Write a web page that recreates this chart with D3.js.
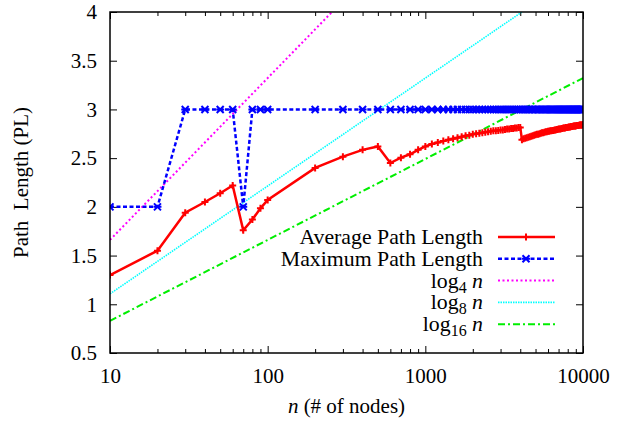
<!DOCTYPE html>
<html>
<head>
<meta charset="utf-8">
<script src="https://cdnjs.cloudflare.com/ajax/libs/d3/7.8.5/d3.min.js"></script>
<style>
  body { margin: 0; background: #fff; }
  svg { font-family: "Liberation Serif", "Times New Roman", serif; }
</style>
</head>
<body>
<script>
// Chart data
var nodes = [10, 20, 30, 40, 50, 60, 70, 80, 90, 100,
  200, 300, 400, 500, 600, 700, 800, 900,
  1000, 1100, 1200, 1300, 1400, 1500, 1600, 1700, 1800, 1900,
  2000, 2100, 2200, 2300, 2400, 2500, 2600, 2700, 2800, 2900,
  3000, 3100, 3200, 3300, 3400, 3500, 3600, 3700, 3800, 3900,
  4000, 4100, 4200, 4300, 4400, 4500, 4600, 4700, 4800, 4900,
  5000, 5100, 5200, 5300, 5400, 5500, 5600, 5700, 5800, 5900,
  6000, 6100, 6200, 6300, 6400, 6500, 6600, 6700, 6800, 6900,
  7000, 7100, 7200, 7300, 7400, 7500, 7600, 7700, 7800, 7900,
  8000, 8100, 8200, 8300, 8400, 8500, 8600, 8700, 8800, 8900,
  9000, 9100, 9200, 9300, 9400, 9500, 9600, 9700, 9800, 9900,
  10000];

var avgPath = [1.30, 1.55, 1.94, 2.05, 2.14, 2.22, 1.76, 1.87, 1.985, 2.07,
  2.40, 2.515, 2.585, 2.62, 2.45, 2.505, 2.54, 2.585,
  2.62, 2.645, 2.66, 2.675, 2.69, 2.70, 2.71, 2.72, 2.73, 2.735,
  2.745, 2.75, 2.755, 2.76, 2.765, 2.77, 2.775, 2.78, 2.78, 2.785,
  2.79, 2.79, 2.795, 2.80, 2.80, 2.805, 2.805, 2.81, 2.81, 2.815,
  2.815, 2.69, 2.70, 2.705, 2.71, 2.715, 2.72, 2.725, 2.73, 2.735,
  2.74, 2.745, 2.745, 2.75, 2.755, 2.76, 2.76, 2.765, 2.77, 2.77,
  2.775, 2.775, 2.78, 2.78, 2.785, 2.785, 2.79, 2.79, 2.795, 2.795,
  2.80, 2.80, 2.80, 2.805, 2.805, 2.81, 2.81, 2.81, 2.815, 2.815,
  2.815, 2.82, 2.82, 2.82, 2.825, 2.825, 2.825, 2.83, 2.83, 2.83,
  2.83, 2.835, 2.835, 2.835, 2.835, 2.84, 2.84, 2.84, 2.84, 2.84,
  2.845];

var maxPath = [2, 2, 3, 3, 3, 3, 2, 3, 3, 3,
  3, 3, 3, 3, 3, 3, 3, 3,
  3, 3, 3, 3, 3, 3, 3, 3, 3, 3,
  3, 3, 3, 3, 3, 3, 3, 3, 3, 3,
  3, 3, 3, 3, 3, 3, 3, 3, 3, 3,
  3, 3, 3, 3, 3, 3, 3, 3, 3, 3,
  3, 3, 3, 3, 3, 3, 3, 3, 3, 3,
  3, 3, 3, 3, 3, 3, 3, 3, 3, 3,
  3, 3, 3, 3, 3, 3, 3, 3, 3, 3,
  3, 3, 3, 3, 3, 3, 3, 3, 3, 3,
  3, 3, 3, 3, 3, 3, 3, 3, 3, 3,
  3];

// reference curves, endpoints at n = 10 and n = 10000
var refN = [10, 10000];
var log4 = [1.661, 6.644];
var log8 = [1.107, 4.429];
var log16 = [0.830, 3.322];

var xTicks = [10, 100, 1000, 10000];
var yTicks = [0.5, 1, 1.5, 2, 2.5, 3, 3.5, 4];

// Chart Params
var svgWidth = 629;
var svgHeight = 423;
var margin = { top: 12, right: 46, bottom: 70, left: 110 };
var width = svgWidth - margin.left - margin.right;
var height = svgHeight - margin.top - margin.bottom;

var svg = d3.select("body")
  .append("svg")
  .attr("width", svgWidth)
  .attr("height", svgHeight);

var chartGroup = svg.append("g")
  .attr("transform", `translate(${margin.left}, ${margin.top})`);

var xScale = d3.scaleLog().domain([10, 10000]).range([0, width]);
var yScale = d3.scaleLinear().domain([0.5, 4]).range([height, 0]);

// minor log ticks (2..9 in every decade)
var minorTicks = [];
[10, 100, 1000].forEach(function(d) {
  for (var k = 2; k <= 9; k++) minorTicks.push(d * k);
});

chartGroup.append("defs").append("clipPath").attr("id", "clip")
  .append("rect").attr("width", width).attr("height", height);

// axes: gnuplot style, ticks pointing inward and mirrored
function styleAxis(g) {
  g.select(".domain").remove();
  g.selectAll("line").attr("stroke", "#000").attr("stroke-width", 1);
  g.selectAll("text").attr("font-size", 21).attr("fill", "#000")
    .attr("font-family", "Liberation Serif, serif");
}

chartGroup.append("g")
  .attr("transform", `translate(0, ${height})`)
  .call(d3.axisBottom(xScale).tickValues(xTicks).tickFormat(d3.format("d"))
    .tickSizeInner(-7).tickSizeOuter(0).tickPadding(15))
  .call(styleAxis);

chartGroup.append("g")
  .attr("transform", `translate(0, ${height})`)
  .call(d3.axisBottom(xScale).tickValues(minorTicks).tickFormat("")
    .tickSizeInner(-4).tickSizeOuter(0))
  .call(styleAxis);

chartGroup.append("g")
  .call(d3.axisTop(xScale).tickValues(xTicks).tickFormat("")
    .tickSizeInner(-7).tickSizeOuter(0))
  .call(styleAxis);

chartGroup.append("g")
  .call(d3.axisTop(xScale).tickValues(minorTicks).tickFormat("")
    .tickSizeInner(-4).tickSizeOuter(0))
  .call(styleAxis);

chartGroup.append("g")
  .call(d3.axisLeft(yScale).tickValues(yTicks).tickFormat(d3.format(""))
    .tickSizeInner(-7).tickSizeOuter(0).tickPadding(13))
  .call(styleAxis);

chartGroup.append("g")
  .attr("transform", `translate(${width}, 0)`)
  .call(d3.axisRight(yScale).tickValues(yTicks).tickFormat("")
    .tickSizeInner(-7).tickSizeOuter(0))
  .call(styleAxis);

// plot lines
var plot = chartGroup.append("g").attr("clip-path", "url(#clip)");

var refLine = d3.line()
  .x(d => xScale(d[0]))
  .y(d => yScale(d[1]));

var refSeries = [
  { vals: log4, color: "#ff00ff", width: 2, dash: "2,2.5" },
  { vals: log8, color: "#00ffff", width: 1.6, dash: "1.5,1" },
  { vals: log16, color: "#00ee00", width: 2, dash: "7,3,2,3" }
];

refSeries.forEach(function(s) {
  plot.append("path")
    .datum(refN.map((n, i) => [n, s.vals[i]]))
    .attr("d", refLine)
    .attr("fill", "none")
    .attr("stroke", s.color)
    .attr("stroke-width", s.width)
    .attr("stroke-dasharray", s.dash);
});

var maxData = nodes.map((n, i) => [n, maxPath[i]]);
var avgData = nodes.map((n, i) => [n, avgPath[i]]);

plot.append("path")
  .datum(maxData)
  .attr("d", refLine)
  .attr("fill", "none")
  .attr("stroke", "#0000ff")
  .attr("stroke-width", 2.5)
  .attr("stroke-dasharray", "4,2.5");

var starPath = "M-3.5,-3.5L3.5,3.5M-3.5,3.5L3.5,-3.5M-4,0L4,0";
var plusPath = "M-3.5,0L3.5,0M0,-3.5L0,3.5";

plot.selectAll(".maxpt")
  .data(maxData)
  .enter()
  .append("path")
  .attr("class", "maxpt")
  .attr("transform", d => `translate(${xScale(d[0])}, ${yScale(d[1])})`)
  .attr("d", starPath)
  .attr("stroke", "#0000ff")
  .attr("stroke-width", 2);

plot.append("path")
  .datum(avgData)
  .attr("d", refLine)
  .attr("fill", "none")
  .attr("stroke", "#ff0000")
  .attr("stroke-width", 2.5);

plot.selectAll(".avgpt")
  .data(avgData)
  .enter()
  .append("path")
  .attr("class", "avgpt")
  .attr("transform", d => `translate(${xScale(d[0])}, ${yScale(d[1])})`)
  .attr("d", plusPath)
  .attr("stroke", "#ff0000")
  .attr("stroke-width", 2);

// frame
chartGroup.append("rect")
  .attr("width", width)
  .attr("height", height)
  .attr("fill", "none")
  .attr("stroke", "#000")
  .attr("stroke-width", 1.5);

// legend
var legendItems = [
  { label: "Average Path Length", color: "#ff0000", width: 2.5, dash: null, mark: plusPath },
  { label: "Maximum Path Length", color: "#0000ff", width: 2.5, dash: "4,2.5", mark: starPath },
  { label: "log", sub: "4", color: "#ff00ff", width: 2, dash: "2,2.5" },
  { label: "log", sub: "8", color: "#00ffff", width: 1.6, dash: "1.5,1" },
  { label: "log", sub: "16", color: "#00ee00", width: 2, dash: "7,3,2,3" }
];

var legend = svg.append("g");
legendItems.forEach(function(item, i) {
  var y = 237 + i * 21.8;
  var t = legend.append("text")
    .attr("x", 483)
    .attr("y", y + 7)
    .attr("text-anchor", "end")
    .attr("font-size", 21.8)
    .attr("fill", "#000");
  t.append("tspan").text(item.label);
  if (item.sub) {
    t.append("tspan").attr("font-size", 16).attr("dy", 5).text(item.sub);
    t.append("tspan").attr("dy", -5).text("\u00a0");
    t.append("tspan").attr("font-style", "italic").text("n");
  }
  legend.append("line")
    .attr("x1", 498).attr("x2", 555)
    .attr("y1", y).attr("y2", y)
    .attr("stroke", item.color)
    .attr("stroke-width", item.width)
    .attr("stroke-dasharray", item.dash);
  if (item.mark) {
    legend.append("path")
      .attr("transform", `translate(526, ${y})`)
      .attr("d", item.mark)
      .attr("stroke", item.color)
      .attr("stroke-width", 2);
  }
});

// axis titles
var xTitle = svg.append("text")
  .attr("x", margin.left + width / 2)
  .attr("y", 413)
  .attr("text-anchor", "middle")
  .attr("font-size", 21)
  .attr("fill", "#000");
xTitle.append("tspan").attr("font-style", "italic").text("n");
xTitle.append("tspan").text(" (# of nodes)");

svg.append("text")
  .attr("transform", `translate(28, ${margin.top + height / 2}) rotate(-90)`)
  .attr("text-anchor", "middle")
  .attr("font-size", 21)
  .attr("fill", "#000")
  .attr("xml:space", "preserve")
  .style("white-space", "pre")
  .text("Path  Length (PL)");
</script>
</body>
</html>
